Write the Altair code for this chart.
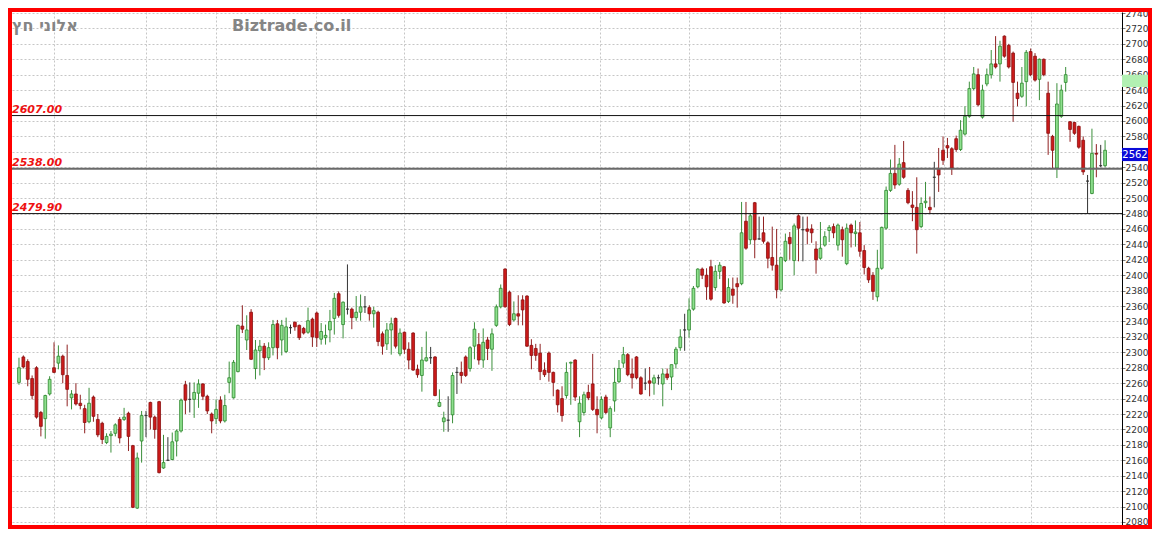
import altair as alt
import pandas as pd

# ---------------- data ----------------
opens = [2261, 2294, 2288, 2266, 2280, 2222, 2214, 2246, 2280, 2286,
         2295, 2270, 2241, 2246, 2234, 2227, 2210, 2242, 2213, 2208,
         2183, 2192, 2195, 2213, 2213, 2221, 2179, 2098, 2185, 2218,
         2235, 2216, 2236, 2150, 2160, 2161, 2185, 2198, 2258, 2239,
         2239, 2247, 2259, 2243, 2220, 2214, 2238, 2211, 2261, 2241,
         2275, 2334, 2316, 2352, 2279, 2302, 2308, 2293, 2306, 2337,
         2316, 2301, 2332, 2339, 2335, 2331, 2326, 2343, 2351, 2317,
         2319, 2329, 2344, 2376, 2336, 2356, 2356, 2345, 2352, 2359,
         2358, 2350, 2352, 2324, 2311, 2329, 2344, 2298, 2326, 2304,
         2325, 2278, 2270, 2289, 2293, 2294, 2230, 2210, 2212, 2219,
         2274, 2274, 2294, 2279, 2308, 2310, 2290, 2316, 2304, 2335,
         2359, 2408, 2378, 2342, 2350, 2368, 2373, 2309, 2305, 2299,
         2277, 2299, 2274, 2251, 2240, 2244, 2286, 2290, 2210, 2222,
         2248, 2259, 2226, 2215, 2242, 2202, 2237, 2262, 2286, 2297,
         2272, 2294, 2267, 2260, 2263, 2260, 2267, 2259, 2272, 2268,
         2285, 2306, 2329, 2329, 2356, 2385, 2408, 2400, 2411, 2384,
         2405, 2411, 2366, 2382, 2389, 2389, 2470, 2446, 2494, 2447,
         2455, 2442, 2423, 2413, 2381, 2419, 2449, 2419, 2477, 2459,
         2460, 2460, 2434, 2422, 2439, 2458, 2463, 2439, 2459, 2415,
         2465, 2454, 2455, 2432, 2409, 2400, 2372, 2409, 2461, 2510,
         2532, 2518, 2546, 2510, 2491, 2488, 2463, 2494, 2488, 2527,
         2538, 2562, 2568, 2564, 2577, 2563, 2583, 2606, 2642, 2660,
         2605, 2648, 2660, 2674, 2674, 2710, 2698, 2688, 2636, 2632,
         2651, 2690, 2684, 2654, 2680, 2636, 2580, 2539, 2606, 2650,
         2599, 2598, 2593, 2575, 2522, 2506, 2558, 2542, 2542]
highs = [2293, 2296, 2291, 2270, 2282, 2224, 2245, 2269, 2313, 2309,
         2297, 2310, 2251, 2260, 2245, 2232, 2254, 2244, 2220, 2210,
         2195, 2198, 2208, 2216, 2228, 2223, 2180, 2170, 2224, 2224,
         2236, 2218, 2237, 2193, 2190, 2196, 2200, 2240, 2263, 2261,
         2261, 2265, 2260, 2245, 2222, 2239, 2243, 2245, 2288, 2290,
         2336, 2361, 2348, 2356, 2316, 2316, 2312, 2313, 2342, 2342,
         2342, 2345, 2336, 2340, 2336, 2333, 2358, 2345, 2353, 2338,
         2336, 2355, 2377, 2379, 2366, 2414, 2358, 2373, 2375, 2373,
         2361, 2359, 2354, 2327, 2338, 2345, 2345, 2331, 2327, 2313,
         2326, 2284, 2307, 2327, 2307, 2295, 2252, 2223, 2243, 2274,
         2281, 2288, 2296, 2308, 2339, 2325, 2331, 2320, 2331, 2362,
         2388, 2409, 2380, 2366, 2374, 2374, 2374, 2317, 2311, 2311,
         2287, 2301, 2275, 2252, 2256, 2287, 2288, 2291, 2243, 2249,
         2258, 2298, 2243, 2243, 2245, 2230, 2280, 2290, 2307, 2299,
         2292, 2295, 2269, 2279, 2281, 2271, 2271, 2279, 2279, 2284,
         2307, 2330, 2350, 2370, 2386, 2409, 2410, 2409, 2420, 2413,
         2417, 2412, 2396, 2397, 2397, 2495, 2495, 2480, 2495, 2476,
         2476, 2444, 2463, 2460, 2424, 2454, 2456, 2467, 2479, 2476,
         2476, 2466, 2444, 2469, 2457, 2465, 2467, 2467, 2463, 2467,
         2467, 2471, 2469, 2439, 2411, 2404, 2433, 2463, 2515, 2550,
         2569, 2552, 2574, 2513, 2509, 2527, 2501, 2521, 2502, 2547,
         2565, 2580, 2578, 2566, 2581, 2601, 2619, 2651, 2670, 2668,
         2647, 2668, 2692, 2710, 2704, 2711, 2700, 2690, 2651, 2670,
         2692, 2694, 2688, 2681, 2681, 2651, 2582, 2649, 2647, 2670,
         2600, 2599, 2594, 2580, 2530, 2590, 2570, 2569, 2575]
lows = [2258, 2279, 2256, 2239, 2214, 2191, 2188, 2244, 2273, 2278,
        2260, 2230, 2226, 2231, 2226, 2195, 2208, 2210, 2190, 2181,
        2181, 2170, 2191, 2182, 2211, 2172, 2098, 2097, 2157, 2190,
        2200, 2188, 2143, 2149, 2159, 2160, 2165, 2196, 2220, 2222,
        2215, 2228, 2238, 2220, 2195, 2207, 2208, 2209, 2247, 2240,
        2274, 2325, 2303, 2290, 2265, 2270, 2277, 2290, 2296, 2291,
        2296, 2299, 2324, 2328, 2316, 2323, 2324, 2307, 2307, 2310,
        2310, 2313, 2323, 2345, 2318, 2349, 2330, 2341, 2341, 2351,
        2341, 2332, 2308, 2297, 2303, 2297, 2305, 2295, 2298, 2278,
        2276, 2267, 2249, 2288, 2285, 2243, 2229, 2197, 2197, 2208,
        2246, 2260, 2268, 2275, 2291, 2284, 2280, 2290, 2276, 2333,
        2357, 2358, 2334, 2340, 2335, 2335, 2307, 2278, 2289, 2264,
        2268, 2262, 2243, 2222, 2210, 2240, 2232, 2237, 2190, 2218,
        2238, 2224, 2195, 2213, 2220, 2190, 2223, 2260, 2280, 2269,
        2253, 2265, 2245, 2251, 2243, 2245, 2258, 2230, 2264, 2251,
        2279, 2302, 2302, 2319, 2354, 2383, 2395, 2368, 2367, 2380,
        2395, 2363, 2364, 2363, 2358, 2387, 2433, 2440, 2422, 2446,
        2441, 2409, 2406, 2370, 2379, 2417, 2420, 2400, 2418, 2418,
        2440, 2442, 2402, 2420, 2437, 2443, 2448, 2432, 2424, 2413,
        2436, 2437, 2424, 2401, 2390, 2368, 2366, 2407, 2459, 2508,
        2512, 2516, 2525, 2492, 2470, 2428, 2461, 2487, 2480, 2488,
        2508, 2543, 2552, 2530, 2560, 2561, 2581, 2604, 2640, 2619,
        2603, 2645, 2655, 2668, 2651, 2682, 2668, 2599, 2619, 2630,
        2619, 2658, 2651, 2627, 2658, 2556, 2538, 2526, 2604, 2638,
        2573, 2582, 2564, 2530, 2480, 2505, 2527, 2540, 2540]
closes = [2280, 2281, 2265, 2244, 2216, 2204, 2244, 2265, 2274, 2295,
          2271, 2252, 2246, 2233, 2231, 2209, 2234, 2217, 2193, 2187,
          2191, 2194, 2206, 2189, 2216, 2191, 2099, 2163, 2218, 2218,
          2216, 2200, 2144, 2157, 2160, 2184, 2198, 2238, 2238, 2239,
          2248, 2259, 2243, 2224, 2211, 2226, 2211, 2231, 2267, 2287,
          2335, 2330, 2329, 2291, 2303, 2308, 2293, 2306, 2336, 2306,
          2335, 2333, 2332, 2333, 2319, 2325, 2341, 2320, 2319, 2327,
          2322, 2340, 2370, 2348, 2365, 2356, 2345, 2352, 2359, 2359,
          2350, 2354, 2314, 2308, 2329, 2337, 2308, 2325, 2304, 2290,
          2277, 2271, 2290, 2293, 2293, 2244, 2235, 2215, 2212, 2270,
          2274, 2270, 2270, 2306, 2330, 2290, 2313, 2305, 2324, 2359,
          2383, 2359, 2336, 2350, 2347, 2355, 2308, 2296, 2296, 2275,
          2271, 2274, 2261, 2232, 2218, 2274, 2287, 2242, 2234, 2245,
          2241, 2226, 2219, 2239, 2222, 2227, 2261, 2279, 2297, 2271,
          2267, 2267, 2246, 2260, 2260, 2267, 2267, 2272, 2267, 2284,
          2304, 2320, 2329, 2355, 2383, 2408, 2400, 2385, 2369, 2405,
          2413, 2364, 2384, 2374, 2385, 2455, 2435, 2477, 2446, 2447,
          2444, 2422, 2413, 2381, 2423, 2444, 2441, 2464, 2461, 2459,
          2457, 2455, 2420, 2435, 2450, 2462, 2455, 2465, 2446, 2461,
          2455, 2456, 2431, 2410, 2394, 2379, 2409, 2462, 2510, 2532,
          2517, 2544, 2527, 2494, 2488, 2459, 2493, 2496, 2485, 2527,
          2530, 2549, 2565, 2539, 2563, 2588, 2606, 2642, 2661, 2621,
          2640, 2660, 2674, 2670, 2697, 2684, 2670, 2650, 2629, 2649,
          2689, 2660, 2653, 2680, 2660, 2584, 2562, 2622, 2640, 2660,
          2589, 2584, 2566, 2534, 2522, 2558, 2557, 2542, 2562]

month_breaks = [8.9, 29.9, 45.9, 68.9, 88.9, 112.2, 133.6, 153.9, 174.8, 193.1, 212.3, 232.1]
price_ticks = list(range(2080, 2741, 20))
levels = [2607.00, 2538.00, 2479.90]
level_labels = ["2607.00", "2538.00", "2479.90"]
level_colors = ["#111111", "#6a6a6a", "#111111"]
level_widths = [1, 2, 1]
watermark_he = "אלוני חץ"
watermark_site = "Biztrade.co.il"
last_price = closes[-1]
band_lo, band_hi = 2644, 2660

# ---------------- layout (whole chart 1144 x 521 so the page does not overflow) ----------------
FR = 4                     # red frame thickness
W, H = 1110, 513           # plot area
AX = 26                    # white axis strip on the right
xs = alt.Scale(domain=[0.547, 251.72], nice=False, zero=False)
ys = alt.Scale(domain=[2076.1, 2741.3], nice=False, zero=False)

df = pd.DataFrame({"i": list(range(1, len(opens) + 1)), "open": opens, "high": highs,
                   "low": lows, "close": closes})
df["dir"] = ["up" if c > o else ("down" if c < o else "flat") for o, c in zip(opens, closes)]
df["body_lo"] = df[["open", "close"]].min(axis=1)
df["body_hi"] = df[["open", "close"]].max(axis=1)

dirs = ["up", "down", "flat"]
wick_scale = alt.Scale(domain=dirs, range=["#3b8f3b", "#8f2020", "#333333"])
fill_scale = alt.Scale(domain=dirs, range=["#8ee08e", "#cc1a1a", "#333333"])
stroke_scale = alt.Scale(domain=dirs, range=["#2c862c", "#8a1010", "#333333"])

x_axis = alt.Axis(values=month_breaks, grid=True, labels=False, ticks=False, domain=False,
                  title=None, gridColor="#c6c6c6", gridDash=[2, 2], gridWidth=1)
y_axis = alt.Axis(orient="right", values=price_ticks, format="d", grid=True, gridColor="#c6c6c6",
                  gridDash=[2, 2], gridWidth=1, domain=True, domainColor="#000000",
                  domainWidth=1, tickColor="#777777", tickSize=3, labelFont="DejaVu Sans",
                  labelFontSize=9, labelColor="#333333", labelPadding=0, labelOverlap=False,
                  labelBound=False, title=None)


def Y(field):
    return alt.Y(field, scale=ys, axis=y_axis)


def X(field):
    return alt.X(field, scale=xs, axis=x_axis)


base = alt.Chart(df)
wicks = base.mark_rule(strokeWidth=1).encode(
    x=X("i:Q"), y=Y("low:Q"), y2="high:Q",
    color=alt.Color("dir:N", scale=wick_scale, legend=None),
)
bodies = base.mark_bar(size=2.8, strokeWidth=0.8).encode(
    x=X("i:Q"), y=Y("body_lo:Q"), y2="body_hi:Q",
    fill=alt.Fill("dir:N", scale=fill_scale, legend=None),
    stroke=alt.Stroke("dir:N", scale=stroke_scale, legend=None),
)

lv_df = pd.DataFrame({"level": levels, "label": level_labels, "c": level_colors, "w": level_widths})
level_rules = alt.Chart(lv_df).mark_rule().encode(
    y=Y("level:Q"),
    color=alt.Color("c:N", scale=None),
    strokeWidth=alt.StrokeWidth("w:Q", scale=None),
)
level_text = alt.Chart(lv_df).mark_text(
    align="left", baseline="alphabetic", dy=-3, font="DejaVu Sans", fontSize=11,
    fontStyle="italic", fontWeight="bold", color="#ee1111",
).encode(x=alt.value(0), y=Y("level:Q"), text="label:N")

wm_df = pd.DataFrame({"t": [watermark_he, watermark_site], "x": [0, 220]})
watermarks = alt.Chart(wm_df).mark_text(
    align="left", baseline="middle", font="DejaVu Sans", fontSize=16, fontWeight="bold",
    color="#858585",
).encode(x=alt.X("x:Q", scale=None), y=alt.value(14), text="t:N")

band_df = pd.DataFrame({"lo": [band_lo], "hi": [band_hi]})
band = alt.Chart(band_df).mark_rect(color="#b2f0b2").encode(
    x=alt.value(W), x2=alt.value(W + AX), y=Y("hi:Q"), y2="lo:Q")

lp_df = pd.DataFrame({"hi": [last_price + 3], "lo": [last_price - 14],
                      "mid": [last_price - 5.5], "label": [str(last_price)]})
lp_box = alt.Chart(lp_df).mark_rect(color="#0b0bd8").encode(
    x=alt.value(W), x2=alt.value(W + AX), y=Y("hi:Q"), y2="lo:Q")
lp_text = alt.Chart(lp_df).mark_text(
    align="center", baseline="middle", font="DejaVu Sans", fontSize=10, color="white",
).encode(x=alt.value(W + AX / 2), y=Y("mid:Q"), text="label:N")

# red frame around the whole chart
frame = alt.Chart(pd.DataFrame({"a": [0]})).mark_rect(
    fill="transparent", stroke="#ff0000", strokeWidth=FR,
).encode(x=alt.value(-FR / 2), x2=alt.value(W + AX + FR / 2),
         y=alt.value(-FR / 2), y2=alt.value(H + FR / 2))

chart = alt.layer(
    wicks, bodies, level_rules, level_text, watermarks, band, lp_box, lp_text, frame
).properties(
    width=W, height=H, background="white",
    padding={"left": FR, "top": FR, "right": AX + FR, "bottom": FR},
    autosize=alt.AutoSizeParams(type="none"),
).configure_view(stroke="transparent", fill="white")

chart.save("out.html", embed_options={"renderer": "svg", "actions": False})
